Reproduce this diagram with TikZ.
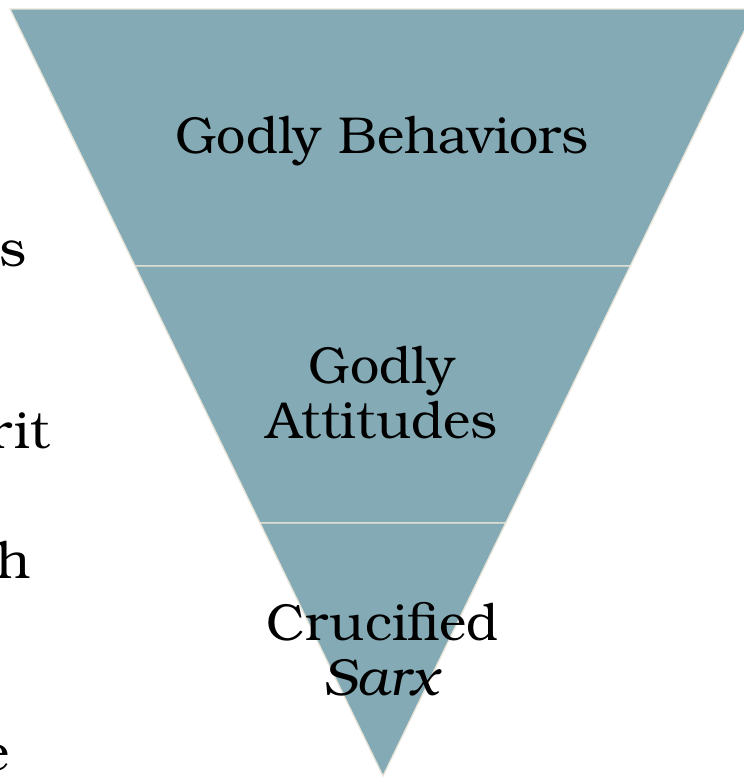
\documentclass[tikz,border=0pt]{standalone}
\usepackage{fontspec}
\setmainfont{TeX Gyre Bonum}
\definecolor{tealfill}{RGB}{132,171,181}
\definecolor{edgecol}{RGB}{232,228,216}
\tikzset{
  layer/.style={fill=tealfill, draw=edgecol, line width=1.3pt, line join=miter},
  lbl/.style={inner sep=0pt, font=\fontsize{52}{55}\selectfont, align=center, text=black},
  frag/.style={inner sep=0pt, font=\fontsize{52}{55}\selectfont, anchor=base east, text=black}
}
\begin{document}
\begin{tikzpicture}[x=1pt,y=-1pt]
\useasboundingbox (0,0) rectangle (744,777);
\clip (0,0) rectangle (744,777);
\coordinate (tl) at (10,9);
\coordinate (tr) at (755,9);
\coordinate (l1) at (135,266);
\coordinate (r1) at (630.3,266);
\coordinate (l2) at (260,523);
\coordinate (r2) at (505.7,523);
\coordinate (apex) at (383,776);
\path[layer] (tl) -- (tr) -- (r1) -- (l1) -- cycle;
\path[layer] (l1) -- (r1) -- (r2) -- (l2) -- cycle;
\path[layer] (l2) -- (r2) -- (apex) -- cycle;
\node[lbl, anchor=base] (beh) at (382,153) {Godly Behaviors};
\node[lbl, anchor=base] (att) at (382,438) {Godly\\Attitudes};
\node[lbl, anchor=base] (cru) at (383,695) {Crucified\\\textit{Sarx}};
\node[frag] (f1) at (27,266) {s};
\node[frag] (f2) at (50,448) {rit};
\node[frag] (f3) at (31,578) {h};
\node[frag] (f4) at (10,770) {e};
\end{tikzpicture}
\end{document}
